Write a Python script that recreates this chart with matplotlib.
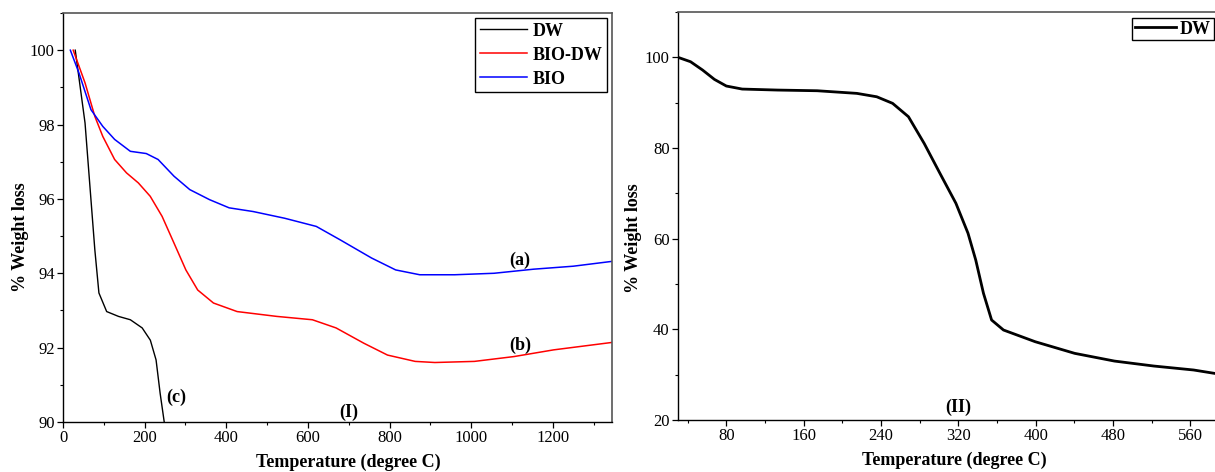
import matplotlib
matplotlib.use("Agg")
import matplotlib.pyplot as plt
from matplotlib.ticker import MultipleLocator

plt.rcParams["font.family"] = ["Liberation Serif", "DejaVu Serif"]
plt.rcParams["font.size"] = 12

# ---- panel (I): TGA of three samples ----
dw_temp = [30, 54, 68.5, 78, 88, 107, 136, 165, 194, 214, 228, 238, 248]
dw_loss = [100, 98.04, 95.98, 94.63, 93.47, 92.97, 92.84, 92.75, 92.53, 92.2, 91.67, 90.77, 90.0]

biodw_temp = [25, 54, 78, 97.5, 126.5, 155.6, 184.6, 213.7, 242.8, 272, 301, 330, 368.6,
              426.6, 523.7, 611, 669, 736.8, 795, 862.7, 911, 1008, 1105, 1202, 1345]
biodw_loss = [100, 99.12, 98.22, 97.68, 97.06, 96.7, 96.43, 96.07, 95.53, 94.81, 94.09, 93.55, 93.2,
              92.97, 92.84, 92.75, 92.53, 92.12, 91.8, 91.63, 91.6, 91.63, 91.76, 91.94, 92.14]

bio_temp = [18, 39, 68.5, 97.5, 126.5, 165, 204, 233, 272, 310.6, 359, 407, 466, 543,
            620.6, 678.9, 756, 815, 874, 959.6, 1056, 1153, 1250, 1345]
bio_loss = [100, 99.39, 98.4, 97.95, 97.6, 97.28, 97.22, 97.06, 96.61, 96.25, 95.98, 95.76, 95.66, 95.48,
            95.26, 94.9, 94.41, 94.09, 93.96, 93.96, 94.0, 94.11, 94.19, 94.32]

# ---- panel (II): DW alone over a wider range ----
dw2_temp = [30, 43, 55.4, 67.7, 80, 96.4, 133, 174, 215, 235.6, 252, 268.4, 284.7, 301,
            317.5, 330, 338, 346, 354.4, 366.7, 399.5, 440.4, 481.5, 522.4, 563.4, 591]
dw2_loss = [100, 99.03, 97.2, 95.13, 93.67, 93.0, 92.78, 92.63, 92.05, 91.3, 89.85, 86.9, 81.0, 74.4,
            67.8, 61.2, 55.3, 47.95, 42.06, 39.85, 37.27, 34.7, 33.0, 31.9, 31.03, 30.08]

fig = plt.figure(figsize=(12.15, 4.72), dpi=100)

W, H = 1215.0, 472.0
ax1 = fig.add_axes([63 / W, 1 - 422 / H, (612 - 63) / W, (422 - 13) / H])
ax2 = fig.add_axes([678 / W, 1 - 420 / H, (1229 - 678) / W, (420 - 12) / H])

ax1.plot(dw_temp, dw_loss, color="black", lw=1.0, label="DW")
ax1.plot(biodw_temp, biodw_loss, color="red", lw=1.1, label="BIO-DW")
ax1.plot(bio_temp, bio_loss, color="blue", lw=1.1, label="BIO")
ax1.set_xlim(0, 1345)
ax1.set_ylim(90, 101)
ax1.xaxis.set_major_locator(MultipleLocator(200))
ax1.xaxis.set_minor_locator(MultipleLocator(100))
ax1.yaxis.set_major_locator(MultipleLocator(2))
ax1.yaxis.set_minor_locator(MultipleLocator(1))

ax1.text(1120, 94.36, "(a)", ha="center", va="center", fontsize=13, fontweight="bold")
ax1.text(1120, 92.07, "(b)", ha="center", va="center", fontsize=13, fontweight="bold")
ax1.text(278, 90.65, "(c)", ha="center", va="center", fontsize=13, fontweight="bold")
ax1.text(700, 90.27, "(I)", ha="center", va="center", fontsize=13, fontweight="bold")

ax2.plot(dw2_temp, dw2_loss, color="black", lw=2.0, label="DW")
ax2.set_xlim(30, 600)
ax2.set_ylim(20, 110)
ax2.xaxis.set_major_locator(MultipleLocator(80))
ax2.xaxis.set_minor_locator(MultipleLocator(40))
ax2.yaxis.set_major_locator(MultipleLocator(20))
ax2.yaxis.set_minor_locator(MultipleLocator(10))
ax2.text(320, 22.9, "(II)", ha="center", va="center", fontsize=13, fontweight="bold")

for ax in (ax1, ax2):
    ax.tick_params(which="major", direction="out", length=4, width=0.9, labelsize=12, pad=2)
    ax.tick_params(which="minor", direction="out", length=2.5, width=0.8)
    ax.tick_params(top=False, right=False)
    for side in ("left", "bottom"):
        ax.spines[side].set_linewidth(1.0)
    for side in ("top", "right"):
        ax.spines[side].set_color("#555555")
        ax.spines[side].set_linewidth(1.2)
    ax.set_xlabel("Temperature (degree C)", fontsize=13, fontweight="bold")
    ax.set_ylabel("% Weight loss", fontsize=13, fontweight="bold")

ax1.xaxis.set_label_coords(0.519, -0.078)
ax1.yaxis.set_label_coords(-0.062, 0.452)
ax2.xaxis.set_label_coords(0.501, -0.078)
ax2.yaxis.set_label_coords(-0.065, 0.445)

leg_kw = dict(frameon=True, fancybox=False, edgecolor="black", framealpha=1,
              borderaxespad=0, prop={"weight": "bold", "size": 13})
leg1 = ax1.legend(loc="upper right", bbox_to_anchor=(606.7 / W, 1 - 18.3 / H),
                  bbox_transform=fig.transFigure, borderpad=0.25, handlelength=2.6,
                  handletextpad=0.3, labelspacing=0.38, **leg_kw)
leg2 = ax2.legend(loc="upper left", bbox_to_anchor=(1132 / W, 1 - 18 / H),
                  bbox_transform=fig.transFigure, borderpad=0.15, handlelength=2.3,
                  handletextpad=0.2, **leg_kw)
for leg in (leg1, leg2):
    leg.get_frame().set_linewidth(1.0)

fig.savefig("out.png", dpi=100)
